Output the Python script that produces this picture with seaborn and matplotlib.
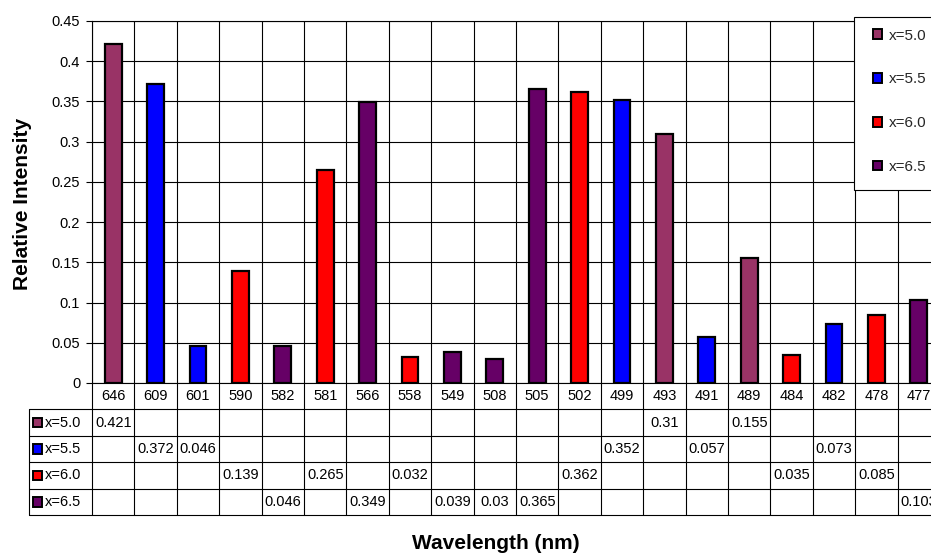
import matplotlib
matplotlib.use("Agg")
import matplotlib.pyplot as plt
from matplotlib.patches import Patch, Rectangle
from matplotlib.ticker import FuncFormatter, MultipleLocator
import seaborn as sns
import pandas as pd

# Emission peaks: wavelength, which composition it belongs to, and relative intensity
wavelengths = ["646", "609", "601", "590", "582", "581", "566", "558", "549", "508",
               "505", "502", "499", "493", "491", "489", "484", "482", "478", "477"]
series = ["x=5.0", "x=5.5", "x=5.5", "x=6.0", "x=6.5", "x=6.0", "x=6.5", "x=6.0", "x=6.5", "x=6.5",
          "x=6.5", "x=6.0", "x=5.5", "x=5.0", "x=5.5", "x=5.0", "x=6.0", "x=5.5", "x=6.0", "x=6.5"]
intensity = [0.421, 0.372, 0.046, 0.139, 0.046, 0.265, 0.349, 0.032, 0.039, 0.03,
             0.365, 0.362, 0.352, 0.31, 0.057, 0.155, 0.035, 0.073, 0.085, 0.103]
series_names = ["x=5.0", "x=5.5", "x=6.0", "x=6.5"]
series_colors = ["#993366", "#0000FF", "#FF0000", "#660066"]

df = pd.DataFrame({"Wavelength": wavelengths, "Series": series, "Intensity": intensity})
palette = dict(zip(series_names, series_colors))

sns.set_theme(style="white")
plt.rcParams["font.family"] = ["Liberation Sans", "DejaVu Sans"]

W, H = 931, 555
FS = 10.5
fig = plt.figure(figsize=(W / 100, H / 100), dpi=100)
fig.patch.set_facecolor("white")


def fx(px):
    return px / W


def fy(py):
    return 1 - py / H


# plot area: 20 columns of ~42.4 px starting at x=92 (the last one runs past the edge)
col_w = 42.4
x0, y_top, y_bot = 92, 21, 383
ncol = len(wavelengths)
ax = fig.add_axes([fx(x0), fy(y_bot), ncol * col_w / W, (y_bot - y_top) / H])

sns.barplot(data=df, x="Wavelength", y="Intensity", hue="Series", order=wavelengths,
            hue_order=series_names, palette=palette, dodge=False, width=0.40,
            edgecolor="black", linewidth=1.6, saturation=1, legend=False, ax=ax, zorder=3)

ax.set_xlim(-0.5, ncol - 0.5)
ax.set_ylim(0, 0.45)
ax.yaxis.set_major_locator(MultipleLocator(0.05))
ax.yaxis.set_major_formatter(FuncFormatter(lambda v, p: f"{v:.2f}".rstrip("0").rstrip(".") if v else "0"))
ax.set_xticks([])
ax.set_xticks([k - 0.5 for k in range(ncol + 1)], minor=True)
ax.tick_params(axis="x", which="both", length=0, labelbottom=False)
ax.tick_params(axis="y", which="major", length=4, width=0.8, color="black", pad=4.5,
               labelsize=FS, left=True, labelcolor="black")
ax.grid(True, which="major", axis="y", color="black", linewidth=0.8)
ax.grid(True, which="minor", axis="x", color="black", linewidth=0.8)
ax.set_axisbelow(True)
for side in ["left", "bottom", "top"]:
    ax.spines[side].set_visible(True)
    ax.spines[side].set_color("black")
    ax.spines[side].set_linewidth(0.8)
ax.spines["right"].set_visible(False)
ax.set_xlabel("")
ax.set_ylabel("")
ax.set_facecolor("white")

# data table below the plot area, sharing the column geometry
t_left, t_bot = 29, 515
row_h = (t_bot - y_bot) / 5
key_w = (x0 - t_left) / col_w
tax = fig.add_axes([fx(t_left), fy(t_bot), (x0 + ncol * col_w - t_left) / W, (t_bot - y_bot) / H])
x_key = -0.5 - key_w
tax.set_xlim(x_key, ncol - 0.5)
tax.set_ylim(5, 0)
tax.axis("off")
lw = 0.8
for k in range(ncol + 1):
    tax.plot([k - 0.5, k - 0.5], [0, 5], color="black", lw=lw, clip_on=False)
tax.plot([x_key, x_key], [1, 5], color="black", lw=lw, clip_on=False)
for r in range(1, 6):
    tax.plot([x_key, ncol - 0.5], [r, r], color="black", lw=lw, clip_on=False)

for i, wl in enumerate(wavelengths):
    tax.text(i, 0.5, wl, ha="center", va="center", fontsize=FS, color="black")
sq = 9.5  # key square size in px
for r, name in enumerate(series_names):
    y = r + 1.5
    tax.add_patch(Rectangle((x_key + 3.5 / col_w, y - sq / 2 / row_h), sq / col_w, sq / row_h,
                            facecolor=palette[name], edgecolor="black", lw=1.4, clip_on=False))
    tax.text(x_key + 16 / col_w, y, name, ha="left", va="center", fontsize=FS, color="black")
for i, (s, v) in enumerate(zip(series, intensity)):
    r = series_names.index(s)
    tax.text(i, r + 1.5, f"{v:g}", ha="center", va="center", fontsize=FS, color="black")

# legend box overlapping the upper right corner of the plot area
fig.patches.append(Rectangle((fx(854), fy(190)), fx(940) - fx(854), fy(17) - fy(190),
                             transform=fig.transFigure, facecolor="white", edgecolor="black",
                             lw=0.8, zorder=5))
handles = [Patch(facecolor=c, edgecolor="black", linewidth=1.4, label=n)
           for n, c in zip(series_names, series_colors)]
LFS = 11
leg = fig.legend(handles=handles, loc="upper left", bbox_to_anchor=(fx(873), fy(28.5)),
                 frameon=False, fontsize=LFS, handlelength=0.6, handleheight=0.6,
                 handletextpad=0.45, labelspacing=1.95, borderpad=0, borderaxespad=0)
leg.set_zorder(6)

fig.text(fx(22.5), fy(203.5), "Relative Intensity", rotation=90, ha="center", va="center",
         fontsize=15, fontweight="bold", color="black")
fig.text(fx(495.5), fy(549), "Wavelength (nm)", ha="center", va="baseline",
         fontsize=15, fontweight="bold", color="black")

fig.savefig("out.png", dpi=100, facecolor="white")
